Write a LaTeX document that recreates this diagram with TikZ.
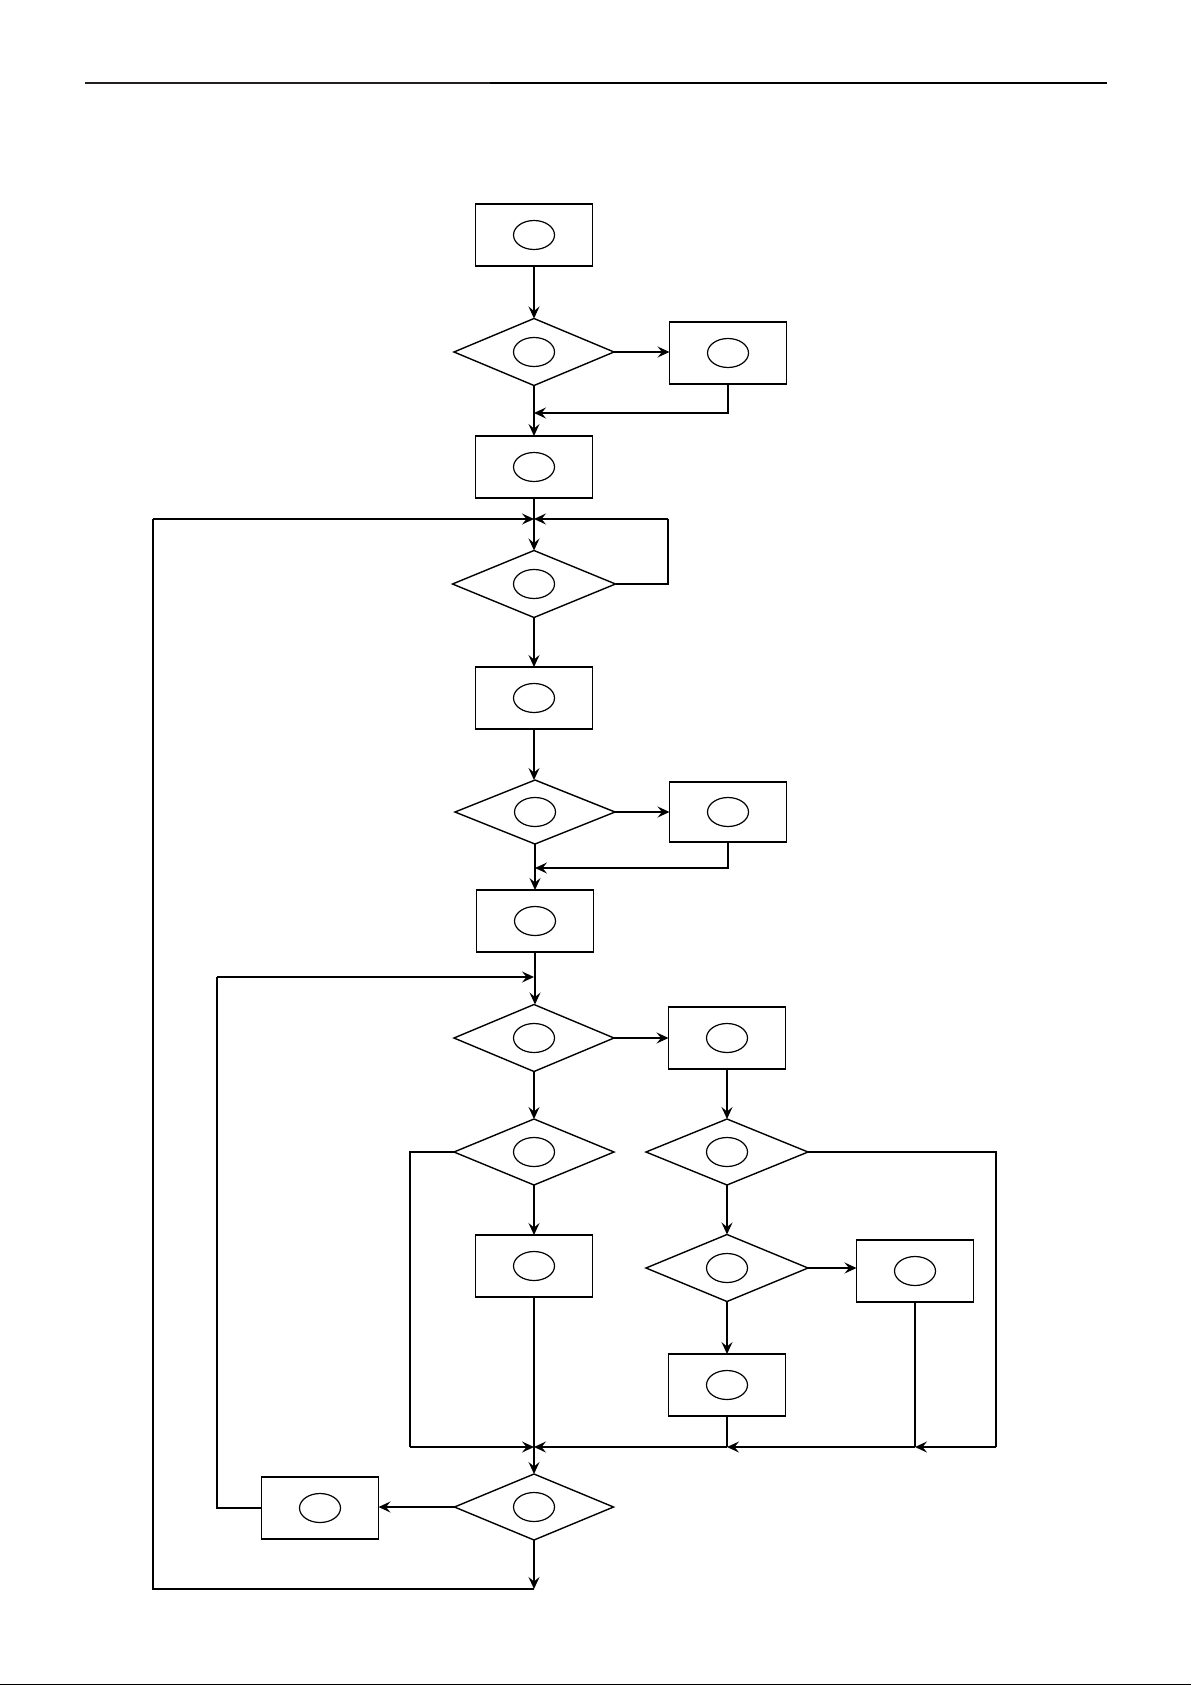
\documentclass[tikz,border=0pt]{standalone}
\usetikzlibrary{shapes.geometric,arrows.meta}
\begin{document}
\begin{tikzpicture}[x=1pt,y=-1pt,
  oval/.style={path picture={\draw[line width=1.2pt] (path picture bounding box.center) ellipse (20.5pt and 14.5pt);}},
  procbox/.style={draw, line width=1.8pt, rectangle, minimum width=117pt, minimum height=62pt, inner sep=0pt, outer sep=0pt, oval},
  decbox/.style={draw, line width=1.4pt, diamond, minimum width=160pt, minimum height=67pt, inner sep=0pt, outer sep=0pt, oval},
  conn/.style={line width=1.4pt},
  arr/.style={conn, -{Stealth[length=12pt,width=11pt,inset=4.5pt]}},
  loopline/.style={line width=1.7pt}
]
\useasboundingbox (0,0) rectangle (1191,1685);
% header rule
\draw[line width=2pt, color={rgb,255:red,35;green,31;blue,32}] (85,83) -- (490,83);
\draw[line width=2pt] (490,83) -- (1107,83);
% bottom edge line
\draw[line width=1pt] (0,1684.5) -- (1191,1684.5);

% nodes
\node[procbox] (b1) at (534,235) {};
\node[decbox]  (d1) at (534,352) {};
\node[procbox] (b2) at (728,353) {};
\node[procbox] (b3) at (534,467) {};
\node[decbox, minimum width=163pt]  (d2) at (534,584) {};
\node[procbox] (b4) at (534,698) {};
\node[decbox, minimum height=64pt]  (d3) at (535,812) {};
\node[procbox, minimum height=60pt] (b5) at (728,812) {};
\node[procbox] (b6) at (535,921) {};
\node[decbox]  (d4) at (534,1038) {};
\node[procbox] (b7) at (727,1038) {};
\node[decbox, minimum height=66pt]  (d5) at (534,1152) {};
\node[decbox, minimum width=162pt, minimum height=66pt]  (d6) at (727,1152) {};
\node[procbox] (b8) at (534,1266) {};
\node[decbox, minimum width=162pt]  (d7) at (727,1268) {};
\node[procbox] (b9) at (915,1271) {};
\node[procbox] (b10) at (727,1385) {};
\node[decbox, minimum width=159pt, minimum height=66pt]  (d8) at (534,1507) {};
\node[procbox] (b11) at (320,1508) {};

% junction coordinates
\coordinate (j1) at (534,413);
\coordinate (j2) at (534,519);
\coordinate (ro) at (668,519);
\coordinate (lo) at (153,519);
\coordinate (j3) at (535,868);
\coordinate (j4) at (534,977);
\coordinate (lo2) at (217,977);
\coordinate (j5) at (534,1447);
\coordinate (j6) at (727,1447);
\coordinate (j7) at (915,1447);
\coordinate (l5) at (410,1447);
\coordinate (r6) at (996,1447);
\coordinate (j9) at (534,1589);

% connectors
\draw[arr] (b1.south) -- (d1.north);
\draw[arr] (d1.east) -- (d1.east -| b2.west);
\draw[arr] (d1.south) -- (b3.north);
\draw[arr] (b2.south) |- (j1);

\draw[arr] (b3.south) -- (d2.north);
\draw[conn] (d2.east) -| (ro);
\draw[arr] (ro) -- (j2);
\draw[arr] (d8.south) -- (j9);
\draw[loopline] (j9) -| (lo);
\draw[arr] (lo) -- (j2);

\draw[arr] (d2.south) -- (b4.north);
\draw[arr] (b4.south) -- (b4.south |- d3.north);
\draw[arr] (d3.east) -- (b5.west);
\draw[arr] (d3.south) -- (b6.north);
\draw[arr] (b5.south) |- (j3);

\draw[arr] (b6.south) -- (b6.south |- d4.north);
\draw[loopline] (b11.west) -| (lo2);
\draw[arr] (lo2) -- (j4);

\draw[arr] (d4.east) -- (b7.west);
\draw[arr] (d4.south) -- (d5.north);
\draw[arr] (b7.south) -- (d6.north);

\draw[loopline] (d5.west) -| (l5);
\draw[arr] (l5) -- (j5);
\draw[arr] (d5.south) -- (b8.north);
\draw[arr] (b8.south) -- (d8.north);

\draw[loopline] (d6.east) -| (r6);
\draw[arr] (r6) -- (j7);
\draw[conn] (b9.south) -- (j7);
\draw[arr] (j7) -- (j6);
\draw[conn] (b10.south) -- (j6);
\draw[arr] (j6) -- (j5);

\draw[arr] (d6.south) -- (d7.north);
\draw[arr] (d7.east) -- (d7.east -| b9.west);
\draw[arr] (d7.south) -- (b10.north);
\draw[arr] (d8.west) -- (d8.west -| b11.east);
\end{tikzpicture}
\end{document}
